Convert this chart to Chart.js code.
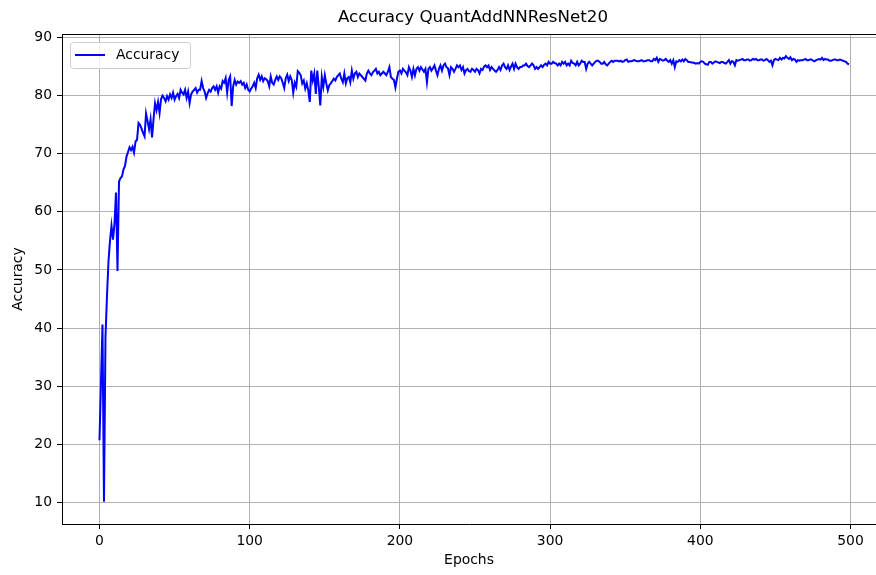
<!DOCTYPE html>
<html>
<head>
<meta charset="utf-8">
<title>Accuracy QuantAddNNResNet20</title>
<script src="https://cdn.jsdelivr.net/npm/chart.js@4.4.1/dist/chart.umd.min.js"></script>
<style>
  html, body { margin: 0; padding: 0; background: #ffffff; }
  canvas { display: block; }
</style>
</head>
<body>
<canvas id="accuracyChart" width="876" height="575"></canvas>
<script>
// chart data
var chartTitle = 'Accuracy QuantAddNNResNet20';
var seriesName = 'Accuracy';
var xAxisLabel = 'Epochs';
var yAxisLabel = 'Accuracy';
var xTicks = [0, 100, 200, 300, 400, 500];
var yTicks = [10, 20, 30, 40, 50, 60, 70, 80, 90];

var accuracy = [
    20.7, 30.5, 40.6, 10.1, 38.5, 45.5, 51.5, 55.0, 57.6, 55.2,
    58.0, 63.3, 49.8, 65.2, 65.8, 66.1, 67.3, 67.9, 69.5, 70.3,
    71.1, 70.6, 71.2, 70.2, 72.1, 72.4, 75.3, 75.0, 74.3, 73.6,
    73.0, 76.9, 75.6, 74.2, 75.9, 72.8, 76.0, 78.7, 77.5, 78.9,
    77.0, 79.4, 80.0, 79.6, 79.0, 79.9, 79.3, 80.2, 79.6, 80.5,
    79.3, 79.9, 80.3, 79.6, 81.0, 80.5, 80.2, 81.0, 79.6, 80.7,
    78.7, 80.2, 80.7, 81.0, 81.3, 80.5, 81.0, 81.0, 82.5, 81.3,
    80.7, 79.6, 80.4, 81.0, 80.7, 81.3, 81.6, 81.0, 81.6, 80.5,
    81.6, 81.2, 82.5, 82.2, 83.0, 80.5, 82.7, 83.3, 78.2, 81.6,
    82.7, 81.9, 82.4, 82.2, 82.5, 81.9, 82.2, 81.3, 81.9, 81.0,
    80.7, 81.2, 81.6, 82.2, 81.3, 83.0, 83.6, 82.7, 83.3, 82.5,
    83.0, 82.8, 82.5, 81.6, 83.3, 82.2, 81.9, 82.7, 83.3, 82.7,
    83.3, 83.0, 82.2, 81.3, 83.0, 83.6, 82.5, 83.3, 82.7, 80.5,
    82.2, 81.5, 84.2, 83.9, 83.5, 82.1, 82.6, 81.2, 82.1, 80.9,
    78.9, 84.3, 82.6, 83.8, 80.3, 84.3, 81.5, 78.3, 83.2, 81.5,
    83.5, 82.1, 80.9, 81.8, 82.1, 82.5, 82.9, 82.6, 83.2, 83.5,
    83.8, 82.9, 82.3, 83.8, 82.1, 83.0, 83.2, 82.3, 84.3, 82.9,
    83.8, 84.1, 83.2, 83.8, 83.5, 83.2, 82.9, 82.6, 83.8, 84.3,
    83.8, 83.5, 84.0, 84.3, 84.6, 83.8, 84.1, 83.5, 83.8, 84.1,
    83.8, 83.5, 84.1, 84.9, 83.2, 82.9, 82.7, 81.4, 82.9, 84.1,
    84.3, 83.8, 84.6, 84.3, 84.0, 83.5, 84.9, 84.3, 83.2, 84.6,
    83.5, 84.6, 84.9, 84.3, 84.9, 84.5, 84.1, 84.6, 82.3, 84.6,
    84.9, 84.3, 84.7, 85.2, 84.3, 83.5, 84.6, 85.2, 84.3, 85.2,
    85.5, 84.9, 84.7, 83.5, 84.9, 84.6, 84.1, 84.6, 85.2, 84.9,
    85.2, 84.4, 84.9, 83.8, 84.4, 84.6, 84.2, 84.1, 84.6, 84.4,
    84.1, 84.6, 84.4, 83.8, 84.6, 84.4, 85.0, 85.2, 84.9, 85.2,
    84.4, 84.9, 84.6, 84.3, 84.1, 84.4, 84.9, 84.4, 85.2, 85.5,
    84.9, 84.6, 85.2, 84.4, 85.0, 85.5, 84.6, 85.5, 84.9, 84.6,
    84.9, 84.9, 85.2, 85.2, 85.5, 85.1, 84.9, 85.2, 85.5, 85.2,
    84.6, 84.9, 84.6, 84.9, 85.2, 84.9, 85.3, 85.5, 85.2, 85.8,
    85.5, 85.5, 85.8, 85.6, 85.5, 85.2, 85.5, 85.2, 85.8, 85.5,
    85.8, 85.2, 85.5, 85.2, 86.0, 85.6, 85.5, 85.2, 85.8, 85.2,
    85.5, 86.0, 85.8, 85.8, 84.6, 85.5, 85.8, 85.5, 85.2, 85.5,
    85.8, 86.0, 86.0, 85.8, 85.5, 85.5, 85.8, 85.4, 85.2, 85.5,
    85.8, 86.0, 85.8, 86.0, 86.0, 86.0, 85.9, 86.0, 85.8, 85.9,
    86.1, 86.2, 85.8, 85.9, 85.9, 86.0, 86.1, 86.0, 85.9, 85.9,
    86.0, 86.1, 85.9, 85.9, 86.0, 86.1, 86.1, 85.9, 85.9, 86.3,
    86.1, 86.5, 85.8, 86.3, 86.2, 86.0, 86.1, 86.3, 86.0, 85.8,
    86.1, 85.5, 86.1, 84.9, 85.9, 85.8, 86.1, 85.9, 86.2, 85.9,
    86.3, 86.1, 85.8, 85.8, 85.7, 85.7, 85.6, 85.5, 85.6, 85.5,
    85.8, 85.9, 85.8, 85.5, 85.4, 85.3, 85.8, 85.8, 85.5, 85.7,
    85.9, 85.8, 85.7, 85.6, 85.8, 85.8, 85.6, 85.5, 85.8, 86.1,
    85.5, 85.9, 85.8, 85.2, 86.1, 86.0, 86.1, 86.2, 86.3, 86.1,
    86.1, 86.2, 86.2, 86.0, 86.1, 86.3, 86.2, 86.3, 86.1, 86.1,
    86.2, 86.2, 86.0, 86.1, 86.3, 86.1, 85.8, 86.0, 85.2, 86.1,
    86.3, 86.2, 86.1, 86.5, 86.2, 86.5, 86.4, 86.8, 86.5, 86.3,
    86.6, 86.1, 86.3, 86.2, 85.8, 86.1, 86.0, 86.1, 86.1, 86.2,
    86.3, 86.1, 86.1, 86.2, 86.2, 86.0, 85.9, 86.1, 86.2, 86.3,
    86.2, 86.5, 86.1, 86.3, 86.2, 86.2, 86.0, 86.0, 86.1, 86.2,
    86.2, 86.1, 86.1, 86.2, 86.1, 86.0, 85.9, 85.8, 85.5, 85.4
];

// epoch index for each value (0 .. n-1)
var epochs = accuracy.map(function (v, i) { return i; });

var baseFont = { family: "'DejaVu Sans', sans-serif", size: 13.9 };

// draws the top spine, the centred title and the boxed legend like matplotlib does
var frameAndLegend = {
    id: 'frameAndLegend',
    afterDraw: function (chart) {
        var ctx = chart.ctx;
        var area = chart.chartArea;
        ctx.save();

        // top spine
        ctx.strokeStyle = '#000000';
        ctx.lineWidth = 1;
        ctx.beginPath();
        ctx.moveTo(area.left, area.top + 0.5);
        ctx.lineTo(area.right, area.top + 0.5);
        ctx.stroke();

        // title
        ctx.fillStyle = '#000000';
        ctx.font = "16.7px 'DejaVu Sans', sans-serif";
        ctx.textAlign = 'center';
        ctx.textBaseline = 'middle';
        ctx.fillText(chartTitle, 473, 18);

        // legend box
        var bx = area.left + 8, by = area.top + 8, bw = 120, bh = 26;
        ctx.fillStyle = 'rgba(255, 255, 255, 0.8)';
        ctx.strokeStyle = '#cccccc';
        ctx.beginPath();
        ctx.roundRect(bx + 0.5, by + 0.5, bw, bh, 3);
        ctx.fill();
        ctx.stroke();

        ctx.strokeStyle = '#0000ff';
        ctx.lineWidth = 2;
        ctx.beginPath();
        ctx.moveTo(bx + 5, by + 13);
        ctx.lineTo(bx + 35, by + 13);
        ctx.stroke();

        ctx.fillStyle = '#000000';
        ctx.font = "13.9px 'DejaVu Sans', sans-serif";
        ctx.textAlign = 'left';
        ctx.fillText(seriesName, bx + 46, by + 13);

        ctx.restore();
    }
};

new Chart(document.getElementById('accuracyChart').getContext('2d'), {
    type: 'line',
    data: {
        datasets: [{
            label: seriesName,
            data: epochs.map(function (e, i) { return { x: e, y: accuracy[i] }; }),
            borderColor: '#0000ff',
            borderWidth: 2,
            pointRadius: 0,
            fill: false,
            tension: 0
        }]
    },
    options: {
        responsive: false,
        animation: false,
        layout: { padding: { top: 34, right: 0, bottom: 0, left: 0 } },
        plugins: {
            legend: { display: false },
            title: { display: false },
            tooltip: { enabled: false }
        },
        scales: {
            x: {
                type: 'linear',
                min: -24.95,
                max: 516.95,
                afterFit: function (scale) { scale.height = 51; },
                afterBuildTicks: function (scale) {
                    scale.ticks = xTicks.map(function (v) { return { value: v }; });
                },
                ticks: { font: baseFont, color: '#000000', padding: 4, maxRotation: 0, includeBounds: false },
                grid: { color: '#b0b0b0', lineWidth: 1, tickColor: '#000000', tickLength: 5 },
                border: { color: '#000000', width: 1 },
                title: { display: true, text: xAxisLabel, font: baseFont, color: '#000000', padding: { top: 0, bottom: 6 } }
            },
            y: {
                min: 6.27,
                max: 90.6,
                afterFit: function (scale) { scale.width = 62; },
                afterBuildTicks: function (scale) {
                    scale.ticks = yTicks.map(function (v) { return { value: v }; });
                },
                ticks: { font: baseFont, color: '#000000', padding: 5, includeBounds: false },
                grid: { color: '#b0b0b0', lineWidth: 1, tickColor: '#000000', tickLength: 5 },
                border: { color: '#000000', width: 1 },
                title: { display: true, text: yAxisLabel, font: baseFont, color: '#000000', padding: { top: 10, bottom: 0 } }
            }
        }
    },
    plugins: [frameAndLegend]
});
</script>
</body>
</html>
